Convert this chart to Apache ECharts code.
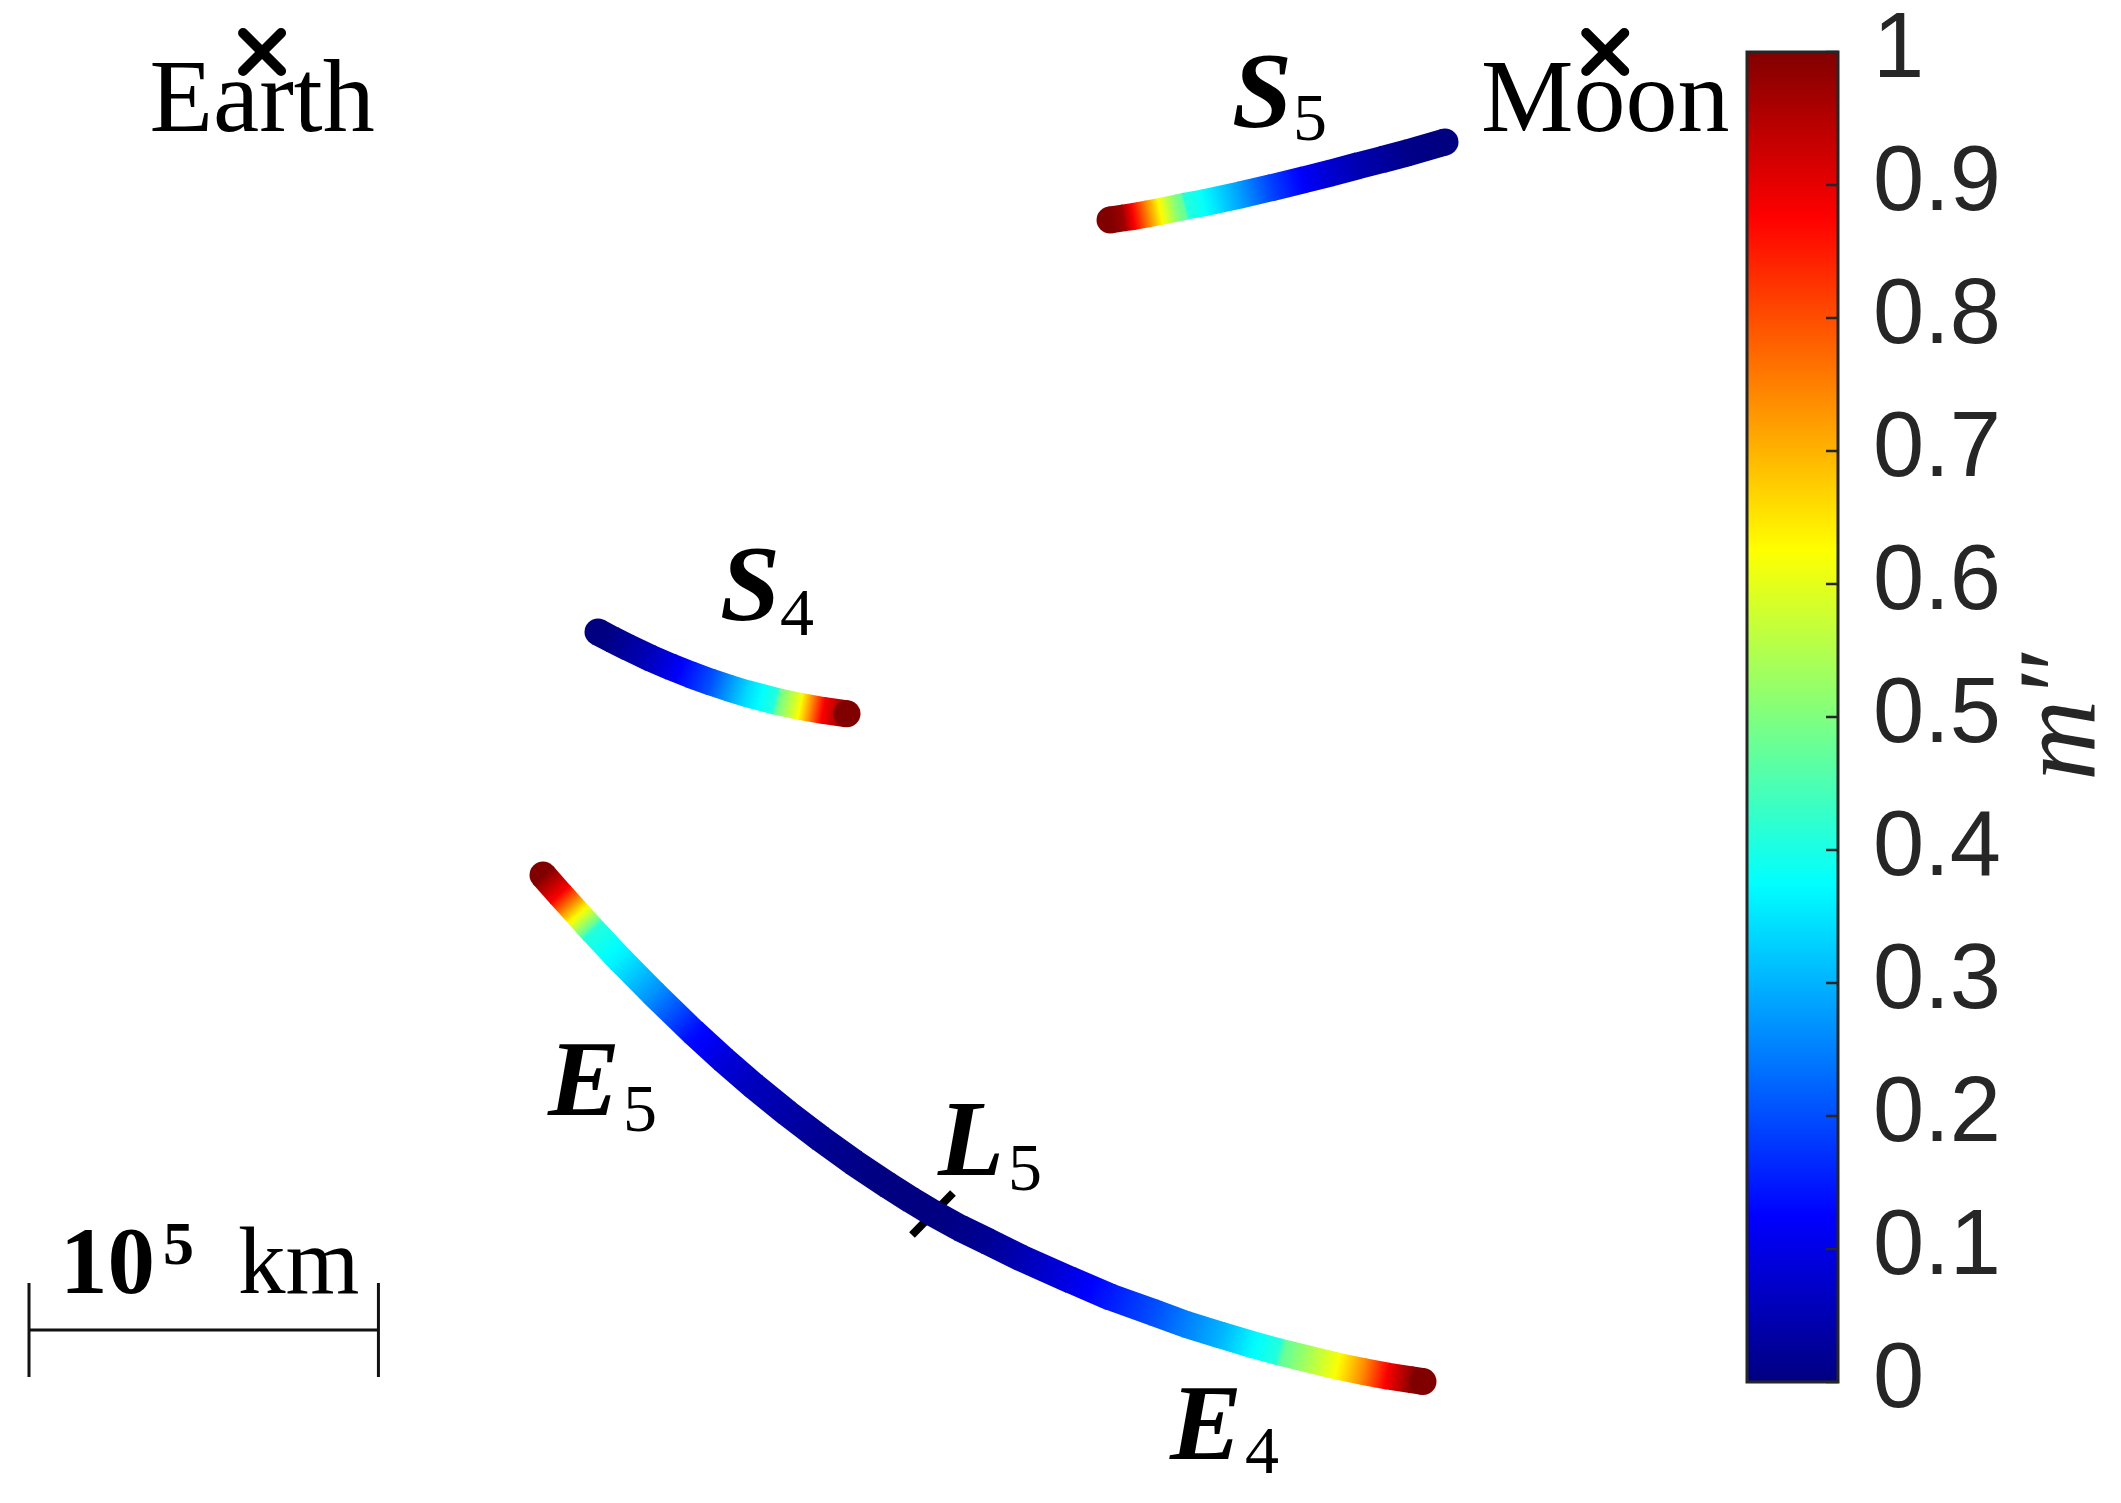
<!DOCTYPE html>
<html><head><meta charset="utf-8">
<script src="https://cdn.jsdelivr.net/npm/echarts@6/dist/echarts.min.js"></script>
<style>html,body{margin:0;padding:0;background:#fff}#c{width:2121px;height:1503px}</style>
</head><body><div id="c"></div><script>
// Units: 10^3 km in the rotating Earth–Moon frame (Earth at origin, Moon at 384.4, 0)
const bodies = [[0, 0], [384.4, 0]];
const bodyNames = ['Earth', 'Moon'];
const bodyLabelPos = [[0, -14.71], [384.4, -14.71]];
const tickL5 = [[186.0, -338.56], [197.73, -326.54]];

// [x, y, m'']
const curveS5 = [
  [242.67,-48.08,1.00],[246.39,-47.51,0.97],[249.25,-47.08,0.88],[253.26,-46.36,0.75],
  [256.98,-45.65,0.63],[261.84,-44.65,0.50],[263.85,-44.22,0.47],[264.42,-44.07,0.41],
  [269.28,-43.21,0.38],[279.87,-40.93,0.28],[288.74,-38.86,0.19],[297.90,-36.63,0.12],
  [305.63,-34.69,0.08],[313.36,-32.63,0.05],[320.51,-30.79,0.03],[327.67,-28.91,0.01],
  [338.54,-25.76,0.00]
];
const curveS4 = [
  [96.14,-165.99,0.00],[100.15,-168.13,0.01],[104.44,-170.25,0.03],[110.99,-173.38,0.06],
  [116.75,-175.86,0.10],[122.47,-178.15,0.15],[128.19,-180.24,0.20],[133.35,-181.96,0.27],
  [138.78,-183.62,0.34],[146.80,-185.73,0.41],[147.65,-185.93,0.48],[153.95,-187.28,0.62],
  [160.53,-188.45,0.88],[167.40,-189.40,1.00]
];
const curveE = [
  [80.40,-235.53,1.00],[85.26,-241.03,0.88],[90.42,-246.75,0.63],[93.28,-249.90,0.50],
  [93.85,-250.53,0.47],[94.71,-251.47,0.41],[102.43,-259.75,0.36],[111.88,-269.30,0.27],
  [123.33,-280.41,0.14],[131.91,-288.28,0.09],[140.50,-295.69,0.06],[149.94,-303.39,0.04],
  [159.67,-310.83,0.02],[169.12,-317.64,0.01],[178.85,-324.13,0.00],[185.43,-328.34,0.00],
  [192.01,-332.29,0.00],[199.74,-336.56,0.01],[207.47,-340.31,0.02],[216.91,-345.00,0.05],
  [231.22,-351.35,0.10],[242.67,-356.28,0.15],[254.97,-360.68,0.20],[264.42,-364.12,0.25],
  [274.15,-367.16,0.30],[283.59,-369.98,0.37],[290.75,-371.93,0.41],[292.18,-372.30,0.47],
  [307.63,-376.08,0.62],[315.07,-377.63,0.74],[321.94,-378.92,0.88],[328.53,-379.92,0.98],
  [332.24,-380.49,1.00]
];

const mathNames = ['S', 'S', 'E', 'L', 'E'];
const mathPos = [[277.59,-13.51],[131.06,-154.60],[81.83,-296.26],[193.44,-313.43],[259.84,-394.71]];
const subNames = ['5', '4', '5', '5', '4'];
const subPos = [[295.05,-20.20],[148.23,-161.87],[103.29,-303.82],[213.48,-320.70],[281.30,-401.69]];

const scaleBar = [[-66.7,-365.75],[33.3,-365.75]];   // 100 units = 10^5 km
const scaleEndsY = [-352.30, -379.20];
const scaleTexts = ['10', '5', 'km'];
const scaleTextPos = [[-57.81,-348.01],[-28.35,-342.22],[-6.89,-348.01]];

const cbRange = [0, 1];
const cbTickValues = [0,0.1,0.2,0.3,0.4,0.5,0.6,0.7,0.8,0.9,1];
const cbTickLabels = ['0','0.1','0.2','0.3','0.4','0.5','0.6','0.7','0.8','0.9','1'];

function clamp(v){ return Math.max(0, Math.min(1, v)); }
function jet(v){
  v = clamp(v);
  const r = clamp(Math.min(4*v - 1.5, -4*v + 4.5));
  const g = clamp(Math.min(4*v - 0.5, -4*v + 3.5));
  const b = clamp(Math.min(4*v + 0.5, -4*v + 2.5));
  return 'rgb(' + Math.round(r*255) + ',' + Math.round(g*255) + ',' + Math.round(b*255) + ')';
}

const LW = 27;
function curveSeries(data){
  return {
    type: 'custom', xAxisIndex: 0, yAxisIndex: 0, z: 5, silent: true,
    data: data,
    renderItem: function(params, api){
      const i = params.dataIndex;
      const n = data.length;
      if (i >= n - 1) return null;
      const a = api.coord([api.value(0), api.value(1)]);
      const nx = data[i+1];
      const b = api.coord([nx[0], nx[1]]);
      const m0 = api.value(2), m1 = nx[2];
      const stops = [];
      for (let k = 0; k <= 4; k++) {
        const t = k/4;
        stops.push({offset: t, color: jet(m0 + (m1 - m0)*t)});
      }
      let bx = b[0], by = b[1];
      if (i < n - 2) {
        const dx = b[0] - a[0], dy = b[1] - a[1];
        const L = Math.sqrt(dx*dx + dy*dy) || 1;
        bx += dx / L * 1.5; by += dy / L * 1.5;
      }
      const children = [{
        type: 'line',
        shape: {x1: a[0], y1: a[1], x2: bx, y2: by},
        style: {
          stroke: new echarts.graphic.LinearGradient(a[0], a[1], b[0], b[1], stops, true),
          lineWidth: LW, lineCap: 'butt'
        }
      }];
      if (i === 0) children.unshift({type: 'circle', shape: {cx: a[0], cy: a[1], r: LW/2}, style: {fill: jet(m0)}});
      if (i === n - 2) children.push({type: 'circle', shape: {cx: b[0], cy: b[1], r: LW/2}, style: {fill: jet(m1)}});
      return {type: 'group', children: children};
    }
  };
}

function textSeries(pos, texts, font, align){
  return {
    type: 'custom', xAxisIndex: 0, yAxisIndex: 0, z: 8, silent: true,
    data: pos,
    renderItem: function(params, api){
      const p = api.coord([api.value(0), api.value(1)]);
      const f = typeof font === 'function' ? font(params.dataIndex) : font;
      return {
        type: 'text', x: p[0], y: p[1],
        style: Object.assign({
          text: texts[params.dataIndex], fill: '#000',
          align: align, verticalAlign: 'middle', fontFamily: 'Liberation Serif'
        }, f)
      };
    }
  };
}

const chart = echarts.init(document.getElementById('c'), null, {renderer: 'canvas'});
chart.setOption({
  animation: false,
  backgroundColor: '#ffffff',
  grid: [
    {left: 0, top: 0, width: 2121, height: 1503, outerBoundsMode: 'none', containLabel: false},
    {left: 1747, top: 52, width: 91, height: 1330, outerBoundsMode: 'none', containLabel: false}
  ],
  xAxis: [
    {gridIndex: 0, type: 'value', min: -75, max: 532, show: false},
    {gridIndex: 1, type: 'value', min: 0, max: 1, show: false}
  ],
  yAxis: [
    {gridIndex: 0, type: 'value', min: -415.26, max: 14.88, show: false},
    {
      gridIndex: 1, type: 'value', min: cbRange[0], max: cbRange[1], interval: 0.1,
      position: 'right', z: 10,
      axisLine: {show: false},
      splitLine: {show: false},
      axisTick: {show: false},
      axisLabel: {
        show: true, margin: 35, fontSize: 92, fontFamily: 'Liberation Sans', color: '#262626',
        showMinLabel: true, showMaxLabel: true,
        formatter: function(v){ return cbTickLabels[Math.round(v*10)]; }
      },
      name: 'm\u2033', nameLocation: 'middle', nameRotate: 90, nameGap: 172,
      nameTextStyle: {fontFamily: 'Liberation Serif', fontStyle: 'italic', fontSize: 112, color: '#262626'}
    }
  ],
  series: [
    // colorbar
    {
      type: 'custom', xAxisIndex: 1, yAxisIndex: 1, z: 2, silent: true,
      data: [[cbRange[0], cbRange[0], cbRange[1], cbRange[1]]],
      renderItem: function(params, api){
        const p0 = api.coord([api.value(0), api.value(1)]);
        const p1 = api.coord([api.value(2), api.value(3)]);
        const stops = [0, 0.125, 0.375, 0.625, 0.875, 1].map(function(o){ return {offset: o, color: jet(o)}; });
        return {
          type: 'rect',
          shape: {x: p0[0], y: p1[1], width: p1[0] - p0[0], height: p0[1] - p1[1]},
          style: {fill: new echarts.graphic.LinearGradient(0, 1, 0, 0, stops), stroke: '#262626', lineWidth: 3}
        };
      }
    },
    // colorbar ticks (right edge, pointing inward)
    {
      type: 'custom', xAxisIndex: 1, yAxisIndex: 1, z: 3, silent: true,
      data: cbTickValues.map(function(v){ return [cbRange[1], v]; }),
      renderItem: function(params, api){
        const p = api.coord([api.value(0), api.value(1)]);
        return {type: 'line', shape: {x1: p[0], y1: p[1], x2: p[0] - 12, y2: p[1]},
          style: {stroke: '#262626', lineWidth: 2.5}};
      }
    },
    // L5 tick (under curve)
    {
      type: 'custom', xAxisIndex: 0, yAxisIndex: 0, z: 3, silent: true,
      data: [[tickL5[0][0], tickL5[0][1], tickL5[1][0], tickL5[1][1]]],
      renderItem: function(params, api){
        const a = api.coord([api.value(0), api.value(1)]);
        const b = api.coord([api.value(2), api.value(3)]);
        return {type: 'line', shape: {x1: a[0], y1: a[1], x2: b[0], y2: b[1]},
          style: {stroke: '#000', lineWidth: 8}};
      }
    },
    curveSeries(curveS5),
    curveSeries(curveS4),
    curveSeries(curveE),
    // Earth / Moon markers
    {
      type: 'custom', xAxisIndex: 0, yAxisIndex: 0, z: 9, silent: true,
      data: bodies,
      renderItem: function(params, api){
        const p = api.coord([api.value(0), api.value(1)]);
        const h = 19;
        return {type: 'group', children: [
          {type: 'line', shape: {x1: p[0]-h, y1: p[1]-h, x2: p[0]+h, y2: p[1]+h}, style: {stroke: '#000', lineWidth: 10, lineCap: 'round'}},
          {type: 'line', shape: {x1: p[0]-h, y1: p[1]+h, x2: p[0]+h, y2: p[1]-h}, style: {stroke: '#000', lineWidth: 10, lineCap: 'round'}}
        ]};
      }
    },
    textSeries(bodyLabelPos, bodyNames, {fontSize: 104}, 'center'),
    textSeries(mathPos, mathNames, {fontSize: 108, fontWeight: 'bold', fontStyle: 'italic'}, 'left'),
    textSeries(subPos, subNames, {fontSize: 68}, 'left'),
    textSeries(scaleTextPos, scaleTexts, function(i){
      return [{fontSize: 95, fontWeight: 'bold'}, {fontSize: 62, fontWeight: 'bold'}, {fontSize: 95}][i];
    }, 'left'),
    // scale bar
    {
      type: 'custom', xAxisIndex: 0, yAxisIndex: 0, z: 6, silent: true,
      data: [[scaleBar[0][0], scaleBar[0][1], scaleBar[1][0], scaleBar[1][1]]],
      renderItem: function(params, api){
        const a = api.coord([api.value(0), api.value(1)]);
        const b = api.coord([api.value(2), api.value(3)]);
        const t0 = api.coord([api.value(0), scaleEndsY[0]]);
        const t1 = api.coord([api.value(0), scaleEndsY[1]]);
        const st = {stroke: '#111', lineWidth: 3};
        return {type: 'group', children: [
          {type: 'line', shape: {x1: a[0], y1: a[1], x2: b[0], y2: b[1]}, style: st},
          {type: 'line', shape: {x1: a[0], y1: t0[1], x2: a[0], y2: t1[1]}, style: st},
          {type: 'line', shape: {x1: b[0], y1: t0[1], x2: b[0], y2: t1[1]}, style: st}
        ]};
      }
    }
  ]
});
</script></body></html>
